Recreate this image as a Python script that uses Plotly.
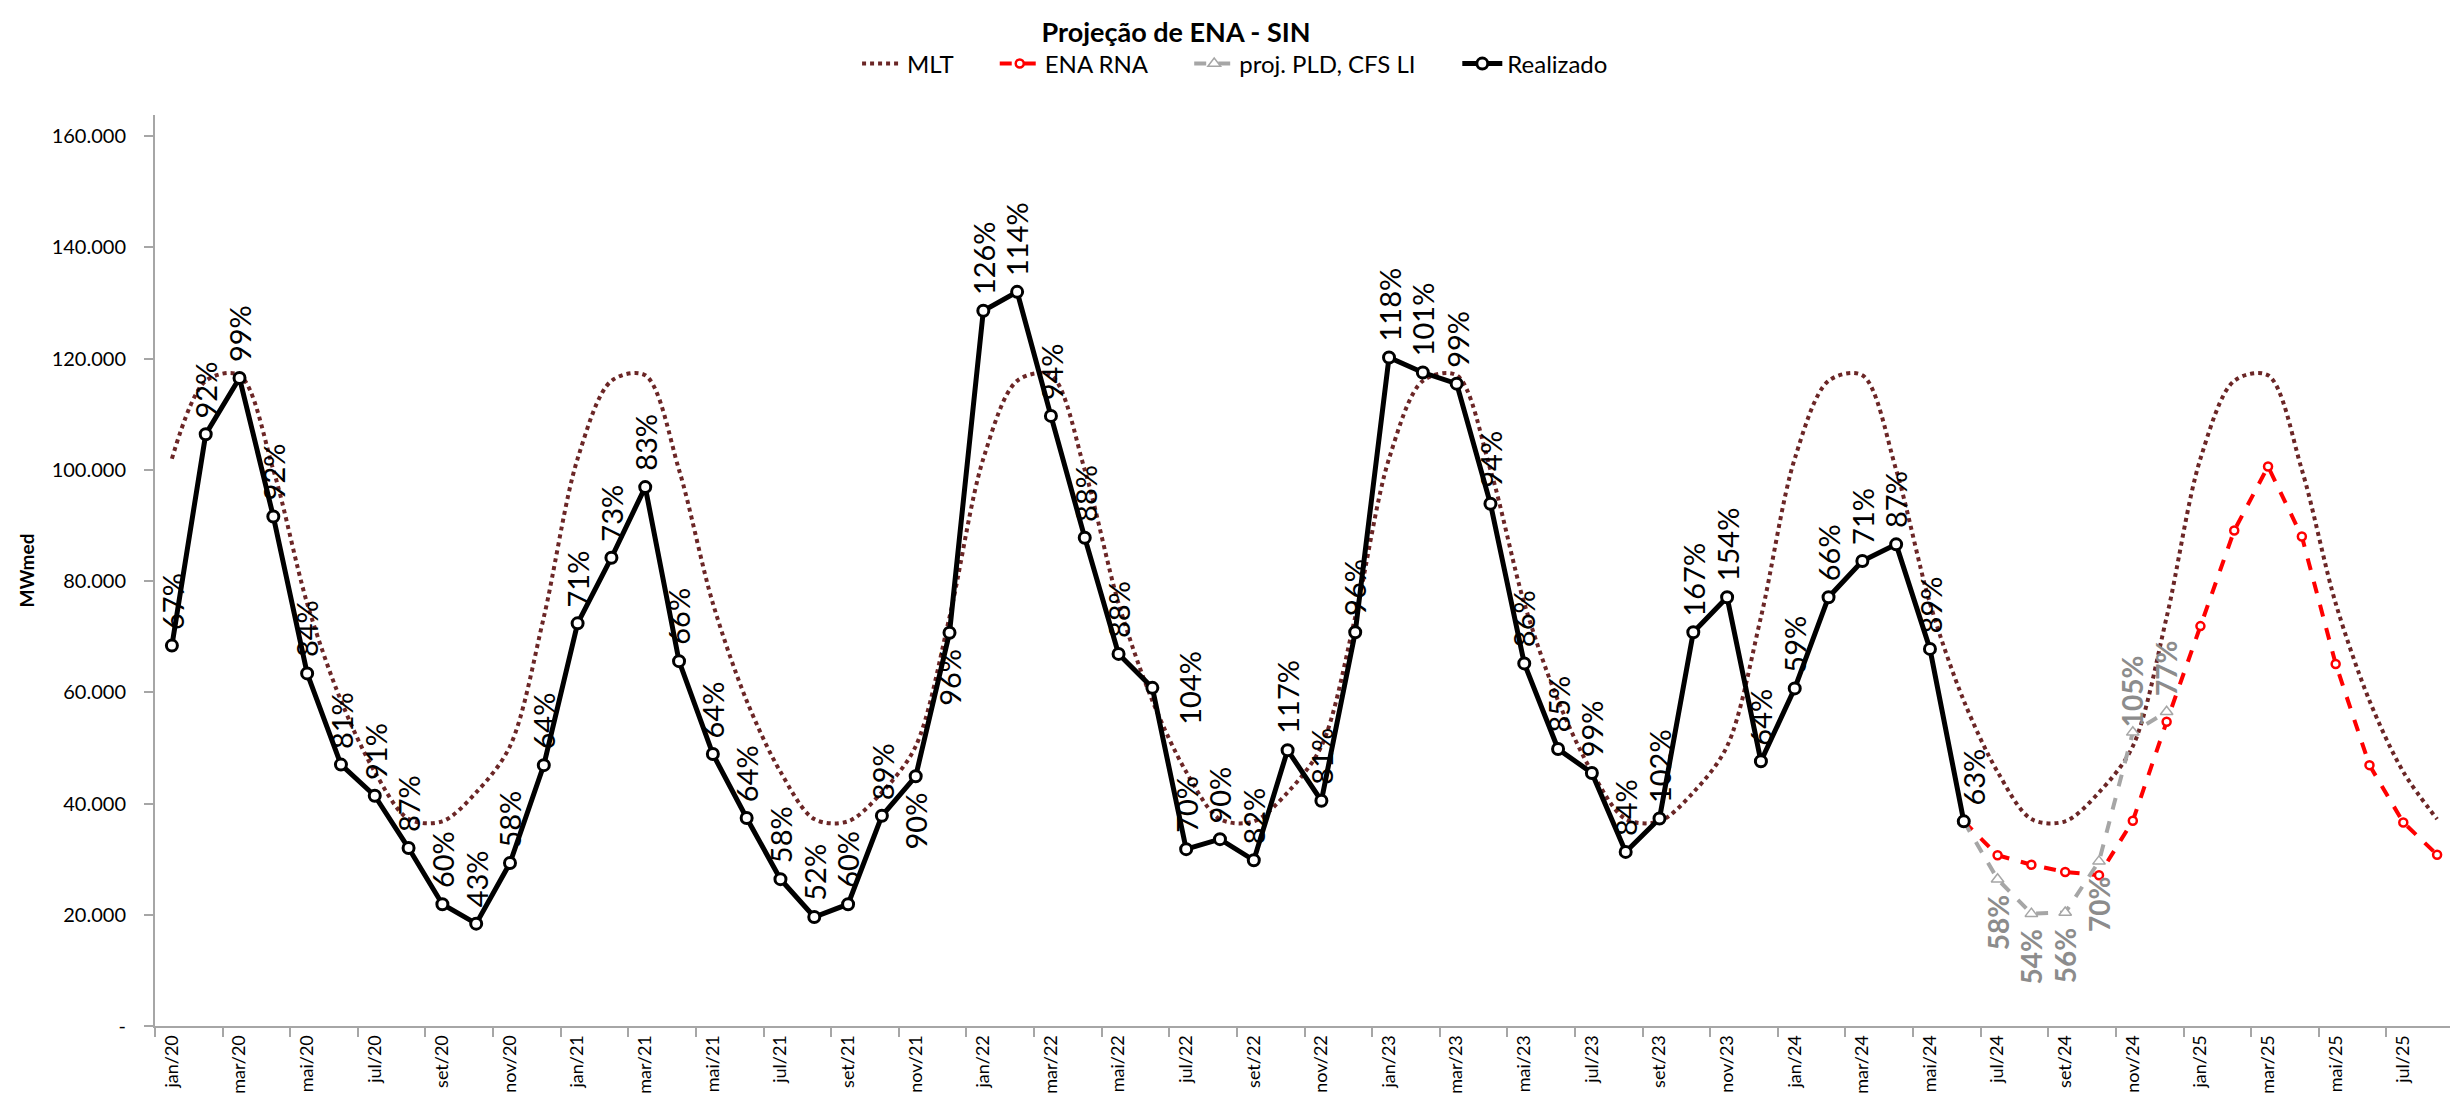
import plotly.graph_objects as go

# ---------------- data ----------------
MONTHS = [
    "jan/20", "fev/20", "mar/20", "abr/20", "mai/20", "jun/20", "jul/20", "ago/20", "set/20", "out/20", "nov/20", "dez/20",
    "jan/21", "fev/21", "mar/21", "abr/21", "mai/21", "jun/21", "jul/21", "ago/21", "set/21", "out/21", "nov/21", "dez/21",
    "jan/22", "fev/22", "mar/22", "abr/22", "mai/22", "jun/22", "jul/22", "ago/22", "set/22", "out/22", "nov/22", "dez/22",
    "jan/23", "fev/23", "mar/23", "abr/23", "mai/23", "jun/23", "jul/23", "ago/23", "set/23", "out/23", "nov/23", "dez/23",
    "jan/24", "fev/24", "mar/24", "abr/24", "mai/24", "jun/24", "jul/24", "ago/24", "set/24", "out/24", "nov/24", "dez/24",
    "jan/25", "fev/25", "mar/25", "abr/25", "mai/25", "jun/25", "jul/25", "ago/25",
]

MLT = [
    102000, 116000, 117000, 100000, 76000, 58500, 45700, 37200, 36800, 42000, 50300, 73500,
    102000, 116000, 117000, 100000, 76000, 58500, 45700, 37200, 36800, 42000, 50300, 73500,
    102000, 116000, 117000, 100000, 76000, 58500, 45700, 37200, 36800, 42000, 50300, 73500,
    102000, 116000, 117000, 100000, 76000, 58500, 45700, 37200, 36800, 42000, 50300, 73500,
    102000, 116000, 117000, 100000, 76000, 58500, 45700, 37200, 36800, 42000, 50300, 73500,
    102000, 116000, 117000, 100000, 76000, 58500, 45700, 37200,
]

REALIZADO = [
    68400, 106400, 116500, 91600, 63400, 47000, 41400, 32000, 21900, 18400, 29300, 46900,
    72400, 84200, 96900, 65600, 48900, 37400, 26400, 19600, 21900, 37800, 44900, 70700,
    128600, 132000, 109700, 87800, 66900, 60800, 31800, 33600, 29800, 49600, 40500, 70800,
    120200, 117500, 115500, 93900, 65200, 49800, 45500, 31300, 37300, 70800, 77100, 47600,
    60700, 77100, 83600, 86600, 67800, 36800,
]

REALIZADO_LABELS = [
    "67%", "92%", "99%", "92%", "84%", "81%", "91%", "87%", "60%", "43%", "58%", "64%",
    "71%", "73%", "83%", "66%", "64%", "64%", "58%", "52%", "60%", "89%", "90%", "96%",
    "126%", "114%", "94%", "88%", "88%", "104%", "70%", "90%", "82%", "117%", "81%", "96%",
    "118%", "101%", "99%", "94%", "86%", "85%", "99%", "84%", "102%", "167%", "154%", "64%",
    "59%", "66%", "71%", "87%", "89%", "63%",
]

ENA_RNA_START = 53  # jun/24
ENA_RNA = [36800, 30700, 29000, 27700, 27100, 36900, 54700, 71900, 89100, 100600, 88000, 65100, 46900, 36600, 30800]

PLD_START = 53  # jun/24
PROJ_PLD = [36800, 26400, 20200, 20400, 29600, 52800, 56500]
PROJ_PLD_LABELS = ["", "58%", "54%", "56%", "70%", "105%", "77%"]

Y_TICKS = [0, 20000, 40000, 60000, 80000, 100000, 120000, 140000, 160000]
Y_TICKTEXT = ["-", "20.000", "40.000", "60.000", "80.000", "100.000", "120.000", "140.000", "160.000"]

# ---------------- style ----------------
REAL_PLACE = (
    ["a"] * 12
    + ["a"] * 10 + ["b", "b"]
    + ["a"] * 5 + ["r"] + ["a"] * 6
    + ["a"] * 12
    + ["a"] * 5 + ["ar"]
)
PLD_PLACE = ["", "b", "b", "b", "b", "a0", "a"]

PLACE = {
    "a": dict(yanchor="bottom", yshift=14, xanchor="center"),
    "ar": dict(yanchor="bottom", yshift=14, xanchor="center", xshift=10),
    "a0": dict(yanchor="bottom", yshift=3, xanchor="center"),
    "b": dict(yanchor="top", yshift=-14, xanchor="center"),
    "r": dict(yanchor="middle", xanchor="left", xshift=18),
}

FONT = "Lato, 'Open Sans', sans-serif"
AXIS_GRAY = "#A6A6A6"
LEGEND_PAD = "\u00a0" * 6

x_all = list(range(len(MONTHS)))
x_real = x_all[:len(REALIZADO)]
x_rna = x_all[ENA_RNA_START:ENA_RNA_START + len(ENA_RNA)]
x_pld = x_all[PLD_START:PLD_START + len(PROJ_PLD)]

fig = go.Figure()

fig.add_trace(go.Scatter(
    x=x_all, y=MLT, name="MLT" + LEGEND_PAD, mode="lines",
    line=dict(color="#6B2626", width=4, dash="4px,4px", shape="spline", smoothing=0.9),
))
fig.add_trace(go.Scatter(
    x=x_rna, y=ENA_RNA, name="ENA RNA" + LEGEND_PAD, mode="lines+markers",
    line=dict(color="#FF0000", width=4, dash="dash"),
    marker=dict(symbol="circle", size=8, color="white", line=dict(color="#FF0000", width=2.5)),
))
fig.add_trace(go.Scatter(
    x=x_pld, y=PROJ_PLD, name="proj. PLD, CFS LI" + LEGEND_PAD, mode="lines+markers",
    line=dict(color="#A6A6A6", width=4, dash="dash"),
    marker=dict(symbol="triangle-up", size=11, color="white", line=dict(color="#A6A6A6", width=1.5)),
))
fig.add_trace(go.Scatter(
    x=x_real, y=REALIZADO, name="Realizado", mode="lines+markers",
    line=dict(color="black", width=5),
    marker=dict(symbol="circle", size=11, color="white", line=dict(color="black", width=3)),
))

annotations = []
for xi, yi, txt, pl in zip(x_real, REALIZADO, REALIZADO_LABELS, REAL_PLACE):
    a = dict(x=xi, y=yi, xref="x", yref="y", text=txt, showarrow=False, textangle=-90,
             font=dict(family=FONT, size=29, color="black"))
    a.update(PLACE[pl])
    annotations.append(a)
for xi, yi, txt, pl in zip(x_pld, PROJ_PLD, PROJ_PLD_LABELS, PLD_PLACE):
    if not txt:
        continue
    a = dict(x=xi, y=yi, xref="x", yref="y", text="<b>" + txt + "</b>", showarrow=False, textangle=-90,
             font=dict(family=FONT, size=28, color="#8C8C8C"))
    a.update(PLACE[pl])
    annotations.append(a)

fig.update_layout(
    width=2458, height=1098,
    margin=dict(l=147, r=12, t=107, b=73),
    paper_bgcolor="white", plot_bgcolor="white",
    font=dict(family=FONT, color="black"),
    title=dict(text="<b>Projeção de ENA - SIN</b>", font=dict(family=FONT, size=27, color="black"),
               xref="container", x=0.4752, xanchor="center", yref="container", y=0.978, yanchor="middle"),
    legend=dict(orientation="h", xref="paper", x=0.4698, xanchor="center", yref="paper", y=1.056, yanchor="middle",
                font=dict(family=FONT, size=24, color="black"), bgcolor="rgba(0,0,0,0)", itemwidth=40),
    showlegend=True,
    annotations=annotations,
)

fig.update_xaxes(
    range=[-0.5, len(MONTHS) - 0.5],
    tickmode="array", tickvals=x_all[::2], ticktext=MONTHS[::2],
    tickangle=-90, ticks="", tickfont=dict(family=FONT, size=18, color="black"),
    showline=True, linecolor=AXIS_GRAY, linewidth=2,
    showgrid=False, zeroline=False,
    minor=dict(tickmode="array", tickvals=[v - 0.5 for v in x_all[::2]] + [len(MONTHS) - 0.5],
               ticks="outside", ticklen=9, tickcolor=AXIS_GRAY, tickwidth=2, showgrid=False),
)
fig.update_yaxes(
    range=[0, 163800],
    tickmode="array", tickvals=Y_TICKS, ticktext=Y_TICKTEXT,
    ticks="outside", ticklen=9, tickcolor=AXIS_GRAY, tickwidth=2,
    tickfont=dict(family=FONT, size=20, color="black"), ticklabelstandoff=14,
    showline=True, linecolor=AXIS_GRAY, linewidth=2,
    showgrid=False, zeroline=False,
    title=dict(text="<b>MWmed</b>", font=dict(family=FONT, size=19, color="black"), standoff=12),
)

fig.write_html("out.html")
